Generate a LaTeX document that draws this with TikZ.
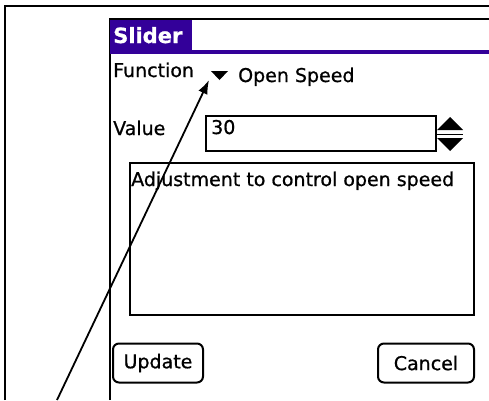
\documentclass[tikz,border=0pt]{standalone}
\usepackage{fontspec}
\setmainfont[FakeBold=0.8]{DejaVu Sans}
\usetikzlibrary{arrows.meta}
\definecolor{titlepurple}{RGB}{51,0,153}
\tikzset{
  screentext/.style={anchor=base west, inner sep=0pt, font=\fontsize{19}{22}\selectfont},
  button/.style={draw, line width=2pt, rounded corners=6pt, minimum height=39pt, inner sep=0pt, font=\fontsize{19}{22}\selectfont},
}
\begin{document}
\begin{tikzpicture}[x=1pt, y=-1pt]
    \useasboundingbox (0,0) rectangle (489,400);
    % Draw frames
    \draw[line width=2.5pt] (5,400) -- (5,6) -- (489,6);
    \draw[line width=2pt] (110,400) -- (110,19) -- (489,19);

    % Draw title bar
    \fill[titlepurple] (110,20) rectangle (192,52);
    \fill[titlepurple] (110,50) rectangle (489,54);
    \node[screentext, text=white, font=\bfseries\fontsize{21}{24}\selectfont] (title) at (113,43) {Slider};

    % Draw fields
    \node[screentext] (function) at (113,77) {Function};
    \fill (211,71) -- (228,71) -- (219.5,80) -- cycle;
    \node[screentext] (openspeed) at (238,82) {Open Speed};
    \node[screentext] (value) at (113,135) {Value};
    \draw[line width=2pt] (206,116) rectangle (436,151);
    \node[screentext] (number) at (211,134) {30};
    \fill (437,130) -- (463,130) -- (450,117) -- cycle;
    \draw[line width=1pt] (437,134) -- (463,134);
    \fill (437,138) -- (463,138) -- (450,151) -- cycle;
    \draw[line width=2pt] (130,163) rectangle (474,315);
    \node[screentext] (help) at (131,186) {Adjustment to control open speed};

    % Draw buttons
    \node[button, minimum width=90pt] (update) at (158,363) {Update};
    \node[button, minimum width=96pt] (cancel) at (426,363) {Cancel};

    % Draw pointer
    \coordinate (start) at (57,400);
    \coordinate (tip) at (209,80);
    \draw[line width=1.8pt, -{Latex[length=14pt,width=10pt]}] (start) -- (tip);
\end{tikzpicture}
\end{document}
